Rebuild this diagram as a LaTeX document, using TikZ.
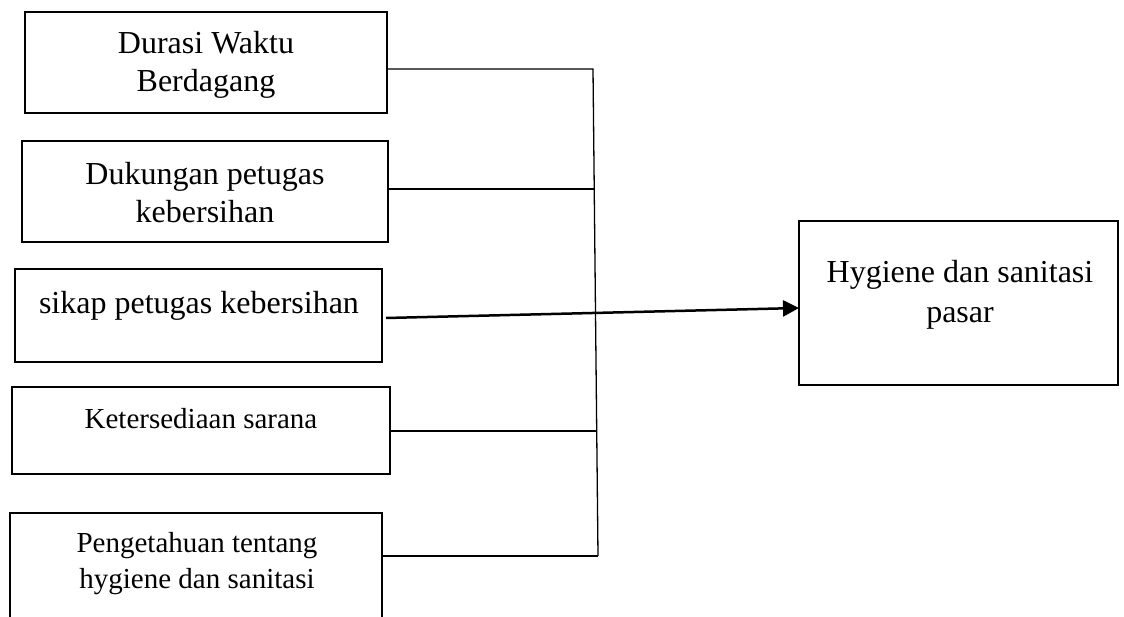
\documentclass[tikz,border=0pt]{standalone}
\usepackage{fontspec}
\setmainfont{Liberation Serif}
\usetikzlibrary{arrows.meta}
\begin{document}
\begin{tikzpicture}[x=1pt,y=-1pt,
  box/.style={draw, line width=2pt, inner sep=0pt, outer sep=0pt, anchor=north west},
  conn/.style={draw, line width=1.3pt},
  arr/.style={draw, line width=2.5pt, -{Triangle[length=16pt,width=16pt]}},
  bigtxt/.style={font=\fontsize{32}{38}\selectfont, align=center, inner sep=0pt, anchor=base},
  smtxt/.style={font=\fontsize{29}{36}\selectfont, align=center, inner sep=0pt, anchor=base}
]
\useasboundingbox (0,0) rectangle (1124,617);
\clip (0,0) rectangle (1124,617);
% boxes
\node[box, minimum width=362pt, minimum height=101pt] (b1) at (25,12) {};
\node[box, minimum width=366pt, minimum height=101pt] (b2) at (22,141) {};
\node[box, minimum width=367pt, minimum height=93pt] (b3) at (15,269) {};
\node[box, minimum width=378pt, minimum height=87pt] (b4) at (12,387) {};
\node[box, minimum width=372pt, minimum height=140pt] (b5) at (10,513) {};
\node[box, minimum width=319pt, minimum height=164pt] (hy) at (799,221) {};
% texts (base = baseline of last line)
\node[bigtxt] (t1) at (206,92) {Durasi Waktu\\Berdagang};
\node[bigtxt] (t2) at (205,223) {Dukungan petugas\\kebersihan};
\node[bigtxt] (t3) at (199,314) {sikap petugas kebersihan};
\node[smtxt] (t4) at (201,428) {Ketersediaan sarana};
\node[smtxt] (t5) at (197,588) {Pengetahuan tentang\\hygiene dan sanitasi};
\node[bigtxt, font=\fontsize{32}{40}\selectfont] (t6) at (960,323) {Hygiene dan sanitasi\\pasar};
% junctions
\coordinate (j1) at (593,69);
\coordinate (j2) at (594,189);
\coordinate (j4) at (596,431);
\coordinate (j5) at (598,556);
% connectors
\draw[conn] (b1.east |- j1) -- (j1) -- (j5);
\draw[conn] (b2.east |- j2) -- (j2);
\draw[conn] (b4.east |- j4) -- (j4);
\draw[conn] (b5.east |- j5) -- (j5);
\draw[arr] ([xshift=4pt,yshift=-2.5pt]b3.east) -- ([yshift=-5pt]hy.west);
\end{tikzpicture}
\end{document}
